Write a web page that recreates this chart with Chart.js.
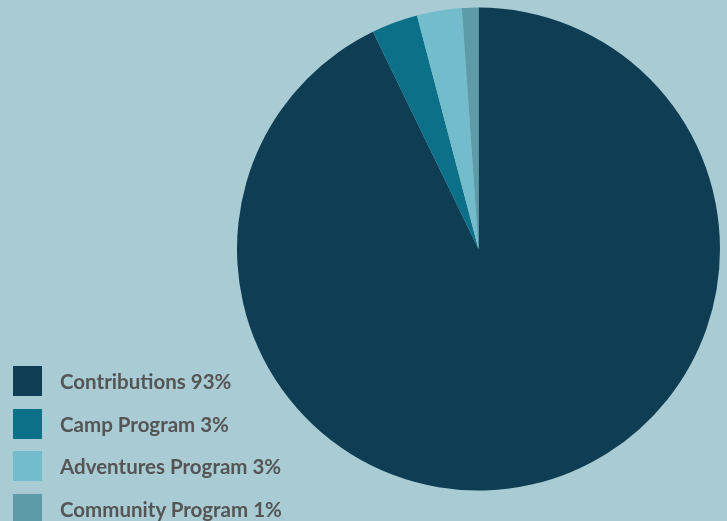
<!DOCTYPE html>
<html>
<head>
<meta charset="utf-8">
<script src="https://cdn.jsdelivr.net/npm/chart.js@4.4.0/dist/chart.umd.min.js"></script>
<style>
  html, body { margin: 0; padding: 0; background: #a9cbd4; }
  #wrap { position: relative; width: 727px; height: 521px; }
  #legend { position: absolute; left: 13px; top: 366px; font-family: Lato, "Open Sans", sans-serif; font-weight: bold; font-size: 20.5px; color: #555555; }
  .item { display: flex; align-items: center; height: 30px; margin-bottom: 12.5px; }
  .box { width: 29px; height: 30px; margin-right: 18px; }
</style>
</head>
<body>
<div id="wrap">
  <canvas id="pieChart" width="727" height="521"></canvas>
  <div id="legend"></div>
</div>
<script>
const categories = ["Contributions", "Camp Program", "Adventures Program", "Community Program"];
const shares = [92.8, 3.1, 3.0, 1.1];
const legendLabels = ["Contributions 93%", "Camp Program 3%", "Adventures Program 3%", "Community Program 1%"];
const sliceColors = ["#0f3e54", "#0c7088", "#72bccb", "#5f9aa8"];

const pieCanvas = document.getElementById("pieChart");
const legendElement = document.getElementById("legend");

new Chart(pieCanvas, {
  type: "pie",
  data: {
    labels: categories,
    datasets: [
      {
        data: shares,
        backgroundColor: sliceColors,
        borderWidth: 0,
      },
    ],
  },
  options: {
    responsive: false,
    animation: false,
    layout: {
      padding: { top: 7, bottom: 30, left: 237, right: 7 },
    },
    plugins: {
      legend: { display: false },
      tooltip: { enabled: false },
    },
  },
});

// legend drawn in html so it can sit under the pie's left edge
legendLabels.forEach((text, i) => {
  const item = document.createElement("div");
  item.className = "item";
  const box = document.createElement("div");
  box.className = "box";
  box.style.background = sliceColors[i];
  const label = document.createElement("span");
  label.textContent = text;
  item.appendChild(box);
  item.appendChild(label);
  legendElement.appendChild(item);
});
</script>
</body>
</html>
